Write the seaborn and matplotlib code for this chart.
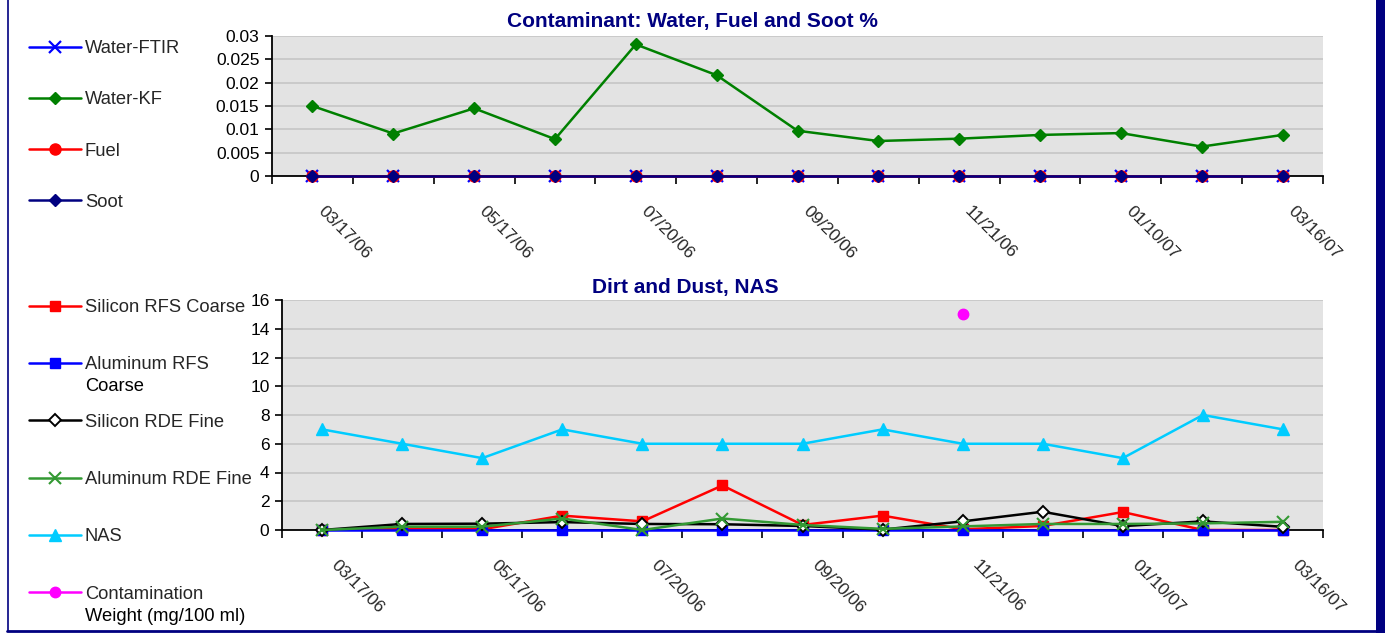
import numpy as np
import pandas as pd
import matplotlib
matplotlib.use("Agg")
import matplotlib.pyplot as plt
import matplotlib.transforms as mtransforms
from matplotlib.patches import Rectangle
from matplotlib.lines import Line2D
import seaborn as sns

# ---------------- data ----------------
dates = ["03/17/06", "04/18/06", "05/17/06", "06/19/06", "07/20/06", "08/17/06",
         "09/20/06", "10/19/06", "11/21/06", "12/14/06", "01/10/07", "02/13/07",
         "03/16/07"]

water_ftir = [0, 0, 0, 0, 0, 0, 0, 0, 0, 0, 0, 0, 0]
water_kf = [0.0150, 0.0091, 0.0145, 0.0079, 0.0282, 0.0216, 0.0097, 0.0075,
            0.0080, 0.0088, 0.0092, 0.0063, 0.0088]
fuel = [0, 0, 0, 0, 0, 0, 0, 0, 0, 0, 0, 0, 0]
soot = [0, 0, 0, 0, 0, 0, 0, 0, 0, 0, 0, 0, 0]

si_rfs_coarse = [0, 0.1, 0.05, 1.0, 0.6, 3.1, 0.35, 1.0, 0.05, 0.28, 1.25, 0, 0]
al_rfs_coarse = [0, 0, 0, 0, 0, 0, 0, 0, 0, 0, 0, 0, 0]
si_rde_fine = [0, 0.42, 0.44, 0.55, 0.42, 0.4, 0.28, 0.03, 0.6, 1.27, 0.27, 0.6, 0.22]
al_rde_fine = [0, 0.23, 0.23, 0.8, 0, 0.8, 0.35, 0.08, 0.25, 0.42, 0.42, 0.46, 0.57]
nas = [7, 6, 5, 7, 6, 6, 6, 7, 6, 6, 5, 8, 7]
contam_weight = [np.nan, np.nan, np.nan, np.nan, np.nan, np.nan, np.nan, np.nan,
                 15, np.nan, np.nan, np.nan, np.nan]

top_yticks = [0, 0.005, 0.01, 0.015, 0.02, 0.025, 0.03]
top_ylabels = ["0", "0.005", "0.01", "0.015", "0.02", "0.025", "0.03"]
bot_yticks = [0, 2, 4, 6, 8, 10, 12, 14, 16]
bot_ylabels = ["0", "2", "4", "6", "8", "10", "12", "14", "16"]

# ---------------- style ----------------
sns.set_style("white")
plt.rcParams["font.family"] = ["Liberation Sans", "DejaVu Sans"]
FS = 12.5
LFS = 13.2
NAVY = "#000080"

W, H = 1385, 633
fig = plt.figure(figsize=(W / 100, H / 100), dpi=100)
fig.patch.set_facecolor("white")


def px_x(x):
    return x / W


def px_y(y):
    return 1 - y / H


ax1 = fig.add_axes([px_x(272), px_y(176), px_x(1323 - 272), (176 - 36) / H])
ax2 = fig.add_axes([px_x(282), px_y(530), px_x(1323 - 282), (530 - 300) / H])

xpos = np.arange(len(dates))
df = pd.DataFrame({"x": xpos, "Water-FTIR": water_ftir, "Water-KF": water_kf,
                   "Fuel": fuel, "Soot": soot,
                   "Silicon RFS Coarse": si_rfs_coarse,
                   "Aluminum RFS Coarse": al_rfs_coarse,
                   "Silicon RDE Fine": si_rde_fine,
                   "Aluminum RDE Fine": al_rde_fine,
                   "NAS": nas, "Contamination Weight": contam_weight})

top_series = [
    ("Water-FTIR", "#0000FF", "x", 8, "#0000FF", 1.6),
    ("Water-KF", "#008000", "D", 6.5, "#008000", 1),
    ("Fuel", "#FF0000", "o", 8, "#FF0000", 1),
    ("Soot", NAVY, "D", 6.5, NAVY, 1),
]
for name, col, mk, ms, mfc, mew in top_series:
    sns.lineplot(data=df, x="x", y=name, ax=ax1, color=col, marker=mk,
                 markersize=ms, markerfacecolor=mfc, markeredgecolor=col,
                 markeredgewidth=mew, linewidth=1.8, label=name,
                 clip_on=False, zorder=3)

bot_series = [
    ("Silicon RFS Coarse", "#FF0000", "s", 7, "#FF0000", 1),
    ("Aluminum RFS Coarse", "#0000FF", "s", 7, "#0000FF", 1),
    ("Silicon RDE Fine", "#000000", "D", 6.5, "white", 1.4),
    ("Aluminum RDE Fine", "#339933", "x", 9, "#339933", 1.5),
    ("NAS", "#00CCFF", "^", 8, "#00CCFF", 1),
    ("Contamination Weight", "#FF00FF", "o", 7.5, "#FF00FF", 1),
]
for name, col, mk, ms, mfc, mew in bot_series:
    sns.lineplot(data=df, x="x", y=name, ax=ax2, color=col, marker=mk,
                 markersize=ms, markerfacecolor=mfc, markeredgecolor=col,
                 markeredgewidth=mew, linewidth=1.8, label=name,
                 clip_on=False, zorder=3)

for ax, yt, yl, ylim in [(ax1, top_yticks, top_ylabels, (0, 0.03)),
                         (ax2, bot_yticks, bot_ylabels, (0, 16))]:
    ax.set_facecolor("#E3E3E3")
    ax.set_xlim(-0.5, len(dates) - 0.5)
    ax.set_ylim(*ylim)
    ax.set_xlabel("")
    ax.set_ylabel("")
    ax.set_yticks(yt)
    ax.set_yticklabels(yl, fontsize=FS)
    ax.yaxis.grid(True, color="#C6C6C6", linewidth=1.2)
    ax.xaxis.grid(False)
    ax.set_axisbelow(True)
    for s in ["top", "right"]:
        ax.spines[s].set_visible(False)
    for s in ["left", "bottom"]:
        ax.spines[s].set_color("black")
        ax.spines[s].set_linewidth(1.3)
    ax.tick_params(axis="y", length=5, width=1.2, pad=4, color="black",
                   labelcolor="black", direction="out", left=True)
    ax.set_xticks(np.arange(-0.5, len(dates), 1.0), minor=True)
    ax.set_xticks(xpos[::2])
    ax.set_xticklabels(dates[::2], fontsize=FS)
    ax.tick_params(axis="x", which="minor", length=6, width=1.2,
                   color="black", direction="out", bottom=True)
    ax.tick_params(axis="x", which="major", length=0, pad=20)
    dx = 0.13 if ax is ax1 else 0.17
    off = mtransforms.ScaledTranslation(dx, 0, fig.dpi_scale_trans)
    for lbl in ax.get_xticklabels():
        lbl.set_rotation(-45)
        lbl.set_ha("left")
        lbl.set_va("top")
        lbl.set_rotation_mode("anchor")
        lbl.set_transform(lbl.get_transform() + off)
    if ax.get_legend() is not None:
        ax.get_legend().remove()

# ---------------- legends ----------------
h1, l1 = ax1.get_legend_handles_labels()
leg1 = fig.legend(h1, l1, loc="upper left", bbox_to_anchor=(px_x(29), px_y(40)),
                  frameon=False, borderpad=0, borderaxespad=0, handlelength=2.85,
                  handletextpad=0.2, labelspacing=1.87, fontsize=LFS)

h2, l2 = ax2.get_legend_handles_labels()
first_lines = ["Silicon RFS Coarse", "Aluminum RFS", "Silicon RDE Fine",
               "Aluminum RDE Fine", "NAS", "Contamination"]
second_lines = {1: "Coarse", 5: "Weight (mg/100 ml)"}
leg2 = fig.legend(h2, first_lines, loc="upper left",
                  bbox_to_anchor=(px_x(29), px_y(299)),
                  frameon=False, borderpad=0, borderaxespad=0, handlelength=2.85,
                  handletextpad=0.2, labelspacing=2.2, fontsize=LFS)

fig.canvas.draw()
renderer = fig.canvas.get_renderer()
for i, txt in enumerate(leg2.get_texts()):
    if i in second_lines:
        bb = txt.get_window_extent(renderer)
        fig.text(bb.x0 / W, (bb.y0 - 22) / H, second_lines[i],
                 fontsize=LFS, ha="left", va="bottom", color="black")

# ---------------- titles ----------------
fig.text(0.5, px_y(22), "Contaminant: Water, Fuel and Soot %", ha="center",
         va="center", fontsize=15, fontweight="bold", color=NAVY)
fig.text(px_x(685), px_y(287), "Dirt and Dust, NAS", ha="center",
         va="center", fontsize=15, fontweight="bold", color=NAVY)

# ---------------- frame ----------------
fig.add_artist(Rectangle((px_x(1376), 0), px_x(9), 1, transform=fig.transFigure,
                         facecolor=NAVY, edgecolor="none"))
fig.add_artist(Line2D([px_x(7.5), px_x(7.5)], [px_y(631), 1], transform=fig.transFigure,
                      color=NAVY, linewidth=1.2))
fig.add_artist(Line2D([px_x(7), px_x(1376)], [px_y(630.5), px_y(630.5)],
                      transform=fig.transFigure, color=NAVY, linewidth=2))

fig.savefig("out.png", dpi=100, facecolor="white")
